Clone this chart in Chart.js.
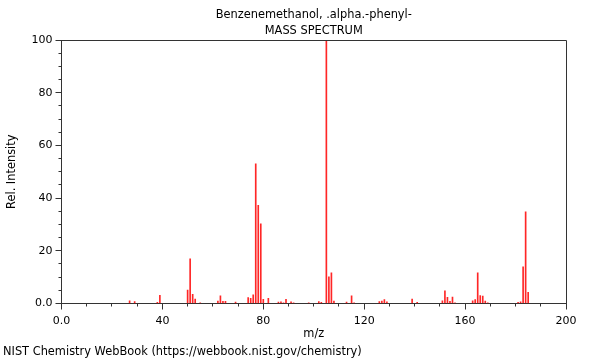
<!DOCTYPE html>
<html>
<head>
<meta charset="utf-8">
<script src="https://cdn.jsdelivr.net/npm/chart.js@4/dist/chart.umd.min.js"></script>
<style>
html,body{margin:0;padding:0;background:#fff;}
#wrap{width:600px;height:360px;position:relative;}
</style>
</head>
<body>
<div id="wrap"><canvas id="c" width="600" height="360"></canvas></div>
<script>
// ---- data ----
const titleLines = ['Benzenemethanol, .alpha.-phenyl-', 'MASS SPECTRUM'];
const footerText = 'NIST Chemistry WebBook (https://webbook.nist.gov/chemistry)';
const xTitle = 'm/z';
const yTitle = 'Rel. Intensity';
const mz = [27, 29, 38, 39, 50, 51, 52, 53, 55, 62, 63, 64, 65, 69, 74, 75, 76, 77, 78, 79, 80, 82,
  86, 87, 88, 89, 91, 92, 98, 102, 103, 105, 106, 107, 108, 113, 115, 116, 126, 127, 128, 129, 139, 141,
  151, 152, 153, 154, 155, 156, 163, 164, 165, 166, 167, 168, 169, 181, 182, 183, 184, 185];
const intensity = [1.0, 0.7, 0.4, 3.1, 5.1, 17.0, 3.5, 1.7, 0.3, 0.9, 2.9, 0.8, 0.8, 0.5, 2.2, 2.0, 3.3, 53.0, 37.3, 30.2, 1.6, 2.0,
  0.5, 0.6, 0.3, 1.6, 0.6, 0.3, 0.3, 0.7, 0.4, 100, 10.1, 11.6, 0.9, 0.5, 2.9, 0.3, 0.7, 0.9, 1.5, 0.6, 1.7, 0.4,
  1.0, 4.8, 2.3, 0.8, 2.4, 0.3, 1.0, 1.5, 11.6, 3.0, 2.8, 0.9, 0.3, 0.4, 0.6, 13.9, 34.8, 4.2];
const xMin = 0, xMax = 200, xMinorStep = 10, xMajorStep = 40;
const yMin = 0, yMax = 100, yMinorStep = 5, yMajorStep = 20;

// ---- styling ----
const FONT = 'DejaVu Sans';
const AXIS = '#333333';
const TEXT = '#000000';
const BAR = 'rgba(255,0,0,0.85)';
const LABEL_SIZE = 11.4;

const points = mz.map((m, i) => ({x: m, y: intensity[i]}));

const isMajor = (v, step) => Math.abs(v / step - Math.round(v / step)) < 1e-9;

const framePlugin = {
  id: 'frame',
  afterDraw(chart) {
    const {ctx, chartArea: a, scales: {x, y}} = chart;
    ctx.save();
    ctx.strokeStyle = AXIS;
    ctx.lineWidth = 1;
    const L = Math.round(a.left - 0.5) + 0.5, R = Math.round(a.right - 0.5) + 0.5;
    const T = Math.round(a.top - 0.5) + 0.5, B = Math.round(a.bottom - 0.5) + 0.5;
    ctx.beginPath();
    ctx.moveTo(L, T); ctx.lineTo(R, T); ctx.lineTo(R, B);
    ctx.stroke();
    // minor ticks
    ctx.beginPath();
    x.ticks.forEach(t => {
      if (!isMajor(t.value, xMajorStep)) {
        const px = Math.round(x.getPixelForValue(t.value) - 0.5) + 0.5;
        ctx.moveTo(px, B); ctx.lineTo(px, B + 3);
      }
    });
    y.ticks.forEach(t => {
      if (!isMajor(t.value, yMajorStep)) {
        const py = Math.round(y.getPixelForValue(t.value) - 0.5) + 0.5;
        ctx.moveTo(L, py); ctx.lineTo(L - 3, py);
      }
    });
    ctx.stroke();
    // footer
    ctx.fillStyle = TEXT;
    ctx.font = LABEL_SIZE + 'px "' + FONT + '"';
    ctx.textAlign = 'left';
    ctx.textBaseline = 'middle';
    ctx.fillText(footerText, 3, 352);
    ctx.restore();
  }
};

new Chart(document.getElementById('c'), {
  type: 'bar',
  data: {
    datasets: [{
      data: points,
      backgroundColor: BAR,
      borderWidth: 0,
      barThickness: 1
    }]
  },
  options: {
    responsive: false,
    devicePixelRatio: 1,
    animation: false,
    layout: {padding: {left: 0, right: 34, top: 0, bottom: 0}},
    plugins: {
      legend: {display: false},
      tooltip: {enabled: false},
      title: {
        display: true,
        fullSize: false,
        text: titleLines,
        color: TEXT,
        font: {family: FONT, size: LABEL_SIZE, weight: 'normal', lineHeight: 16 / LABEL_SIZE},
        padding: {top: 7, bottom: 1}
      }
    },
    scales: {
      x: {
        type: 'linear',
        min: xMin, max: xMax,
        offset: false,
        afterFit: s => { s.height = 56.5; },
        grid: {
          display: true, drawOnChartArea: false, drawTicks: true, tickLength: 6, offset: false,
          tickColor: c => isMajor(c.tick.value, xMajorStep) ? AXIS : 'rgba(0,0,0,0)'
        },
        border: {display: true, color: AXIS},
        ticks: {
          stepSize: xMinorStep, autoSkip: false, maxRotation: 0, padding: 5,
          color: TEXT, font: {family: FONT, size: 11},
          callback: v => isMajor(v, xMajorStep) ? (v === 0 ? '0.0' : String(v)) : ''
        },
        title: {display: true, text: xTitle, color: TEXT, font: {family: FONT, size: LABEL_SIZE}, padding: {top: 4, bottom: 19}}
      },
      y: {
        min: yMin, max: yMax,
        afterFit: s => { s.width = 61.5; },
        grid: {
          display: true, drawOnChartArea: false, drawTicks: true, tickLength: 6,
          tickColor: c => isMajor(c.tick.value, yMajorStep) ? AXIS : 'rgba(0,0,0,0)'
        },
        border: {display: true, color: AXIS},
        ticks: {
          stepSize: yMinorStep, autoSkip: false, padding: 3,
          color: TEXT, font: {family: FONT, size: 11},
          callback: v => isMajor(v, yMajorStep) ? (v === 0 ? '0.0' : String(v)) : ''
        },
        title: {display: true, text: yTitle, color: TEXT, font: {family: FONT, size: LABEL_SIZE}, padding: {top: 5, bottom: 4}}
      }
    }
  },
  plugins: [framePlugin]
});
</script>
</body>
</html>
